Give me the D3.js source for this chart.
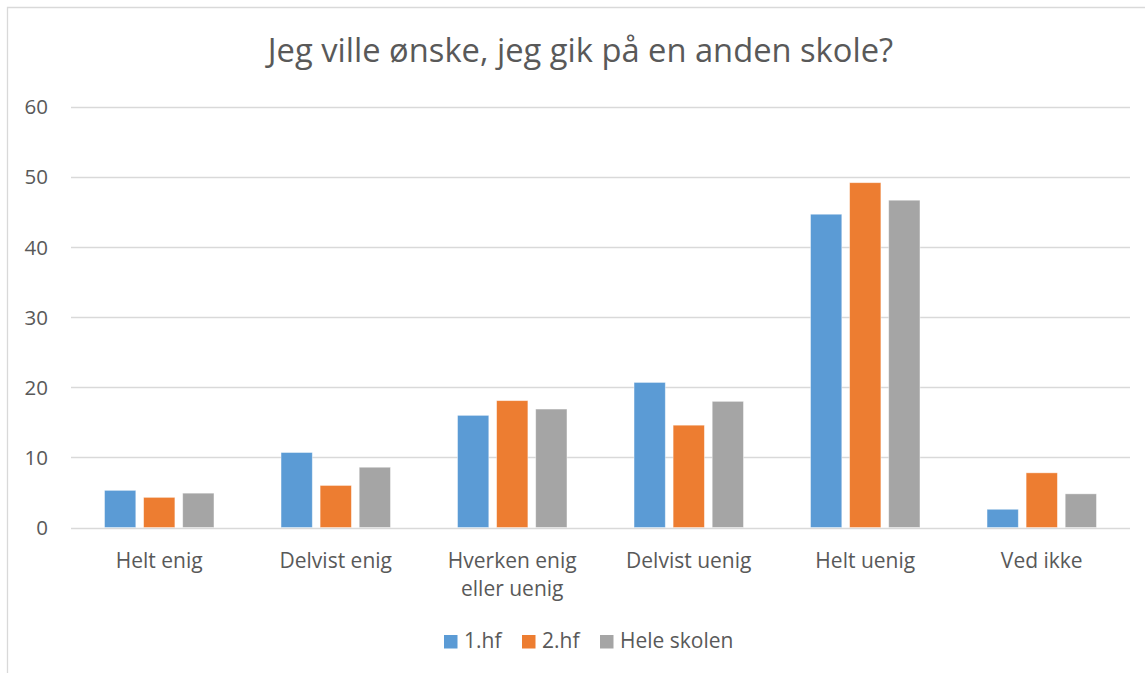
<!DOCTYPE html>
<html>
<head>
<meta charset="utf-8">
<script src="https://cdn.jsdelivr.net/npm/d3@7"></script>
<style>
  body { margin: 0; background: #fff; }
  svg text { font-family: 'Open Sans', sans-serif; fill: #595959; }
</style>
</head>
<body>
<svg id="chart" width="1145" height="673"></svg>
<script>
// data
const categories = ["Helt enig", "Delvist enig", "Hverken enig eller uenig", "Delvist uenig", "Helt uenig", "Ved ikke"];
const series = ["1.hf", "2.hf", "Hele skolen"];
const hf1 = [5.3, 10.7, 16.0, 20.7, 44.7, 2.6];
const hf2 = [4.3, 6.0, 18.1, 14.6, 49.2, 7.8];
const heleSkolen = [4.9, 8.6, 16.9, 18.0, 46.7, 4.8];
const yTicks = [0, 10, 20, 30, 40, 50, 60];
const colors = ["#5B9BD5", "#ED7D31", "#A5A5A5"];
const title = "Jeg ville ønske, jeg gik på en anden skole?";

const values = [hf1, hf2, heleSkolen];
const rows = categories.map((c, i) => ({ cat: c, vals: series.map((s, j) => ({ s, j, v: values[j][i] })) }));

const svg = d3.select("#chart");

// chart frame (cut at right / bottom like the screenshot)
svg.append("path")
  .attr("d", "M7.5,673 L7.5,7.5 L1145,7.5")
  .attr("fill", "none").attr("stroke", "#D9D9D9").attr("stroke-width", 1.3);

const plot = { left: 71, right: 1130, top: 107, bottom: 527.5 };

const x0 = d3.scaleBand().domain(categories).range([plot.left, plot.right]).padding(0);
const groupW = x0.bandwidth() * 0.62;
const x1 = d3.scaleBand().domain(series).range([0, groupW]).paddingInner(0.2).paddingOuter(0);
const y = d3.scaleLinear().domain([0, 60]).range([plot.bottom, plot.top]);

svg.append("text")
  .attr("x", 580.5)
  .attr("y", 62)
  .attr("text-anchor", "middle")
  .style("font-size", "32.7px")
  .text(title);

// gridlines
svg.append("g").selectAll("line").data(yTicks).enter().append("line")
  .attr("x1", plot.left).attr("x2", plot.right)
  .attr("y1", d => Math.round(y(d)) + 0.5).attr("y2", d => Math.round(y(d)) + 0.5)
  .attr("stroke", "#D9D9D9").attr("stroke-width", 1.3);

// y tick labels
svg.append("g").selectAll("text").data(yTicks).enter().append("text")
  .attr("x", 48).attr("y", d => y(d)).attr("dy", "0.36em")
  .attr("text-anchor", "end")
  .style("font-size", "20.5px")
  .text(d => d);

// bars
const groups = svg.append("g").selectAll("g").data(rows).enter().append("g")
  .attr("transform", d => `translate(${x0(d.cat) + (x0.bandwidth() - groupW) / 2},0)`);

groups.selectAll("rect").data(d => d.vals).enter().append("rect")
  .attr("x", d => x1(d.s))
  .attr("y", d => y(d.v))
  .attr("width", x1.bandwidth())
  .attr("height", d => y(0) - y(d.v))
  .attr("fill", d => colors[d.j])
  .attr("stroke", "#fff").attr("stroke-opacity", 0.5).attr("stroke-width", 0.8);

// category labels with wrapping
const maxW = 150;
const catLabels = svg.append("g").selectAll("text").data(categories).enter().append("text")
  .attr("x", d => x0(d) + x0.bandwidth() / 2)
  .attr("y", 567.5)
  .attr("text-anchor", "middle")
  .style("font-size", "21px")
  .text(d => d);

catLabels.each(function(d) {
  const t = d3.select(this);
  if (this.getComputedTextLength() <= maxW) return;
  const words = d.split(" ");
  const lines = [];
  let line = [];
  t.text(null);
  words.forEach(w => {
    line.push(w);
    const probe = t.append("tspan").text(line.join(" "));
    if (probe.node().getComputedTextLength() > maxW && line.length > 1) {
      line.pop();
      lines.push(line.join(" "));
      line = [w];
    }
    probe.remove();
  });
  lines.push(line.join(" "));
  lines.forEach((l, i) => {
    t.append("tspan").attr("x", t.attr("x")).attr("dy", i ? 28 : 0).text(l);
  });
});

// legend
const legendItems = [
  { s: series[0], x: 444 },
  { s: series[1], x: 522 },
  { s: series[2], x: 600 }
];
const legend = svg.append("g").selectAll("g").data(legendItems).enter().append("g")
  .attr("transform", d => `translate(${d.x},635)`);
legend.append("rect").attr("width", 13.5).attr("height", 13.5)
  .attr("fill", (d, i) => colors[i]);
legend.append("text").attr("x", 20).attr("y", 12.7)
  .style("font-size", "21px")
  .text(d => d.s);
</script>
</body>
</html>
